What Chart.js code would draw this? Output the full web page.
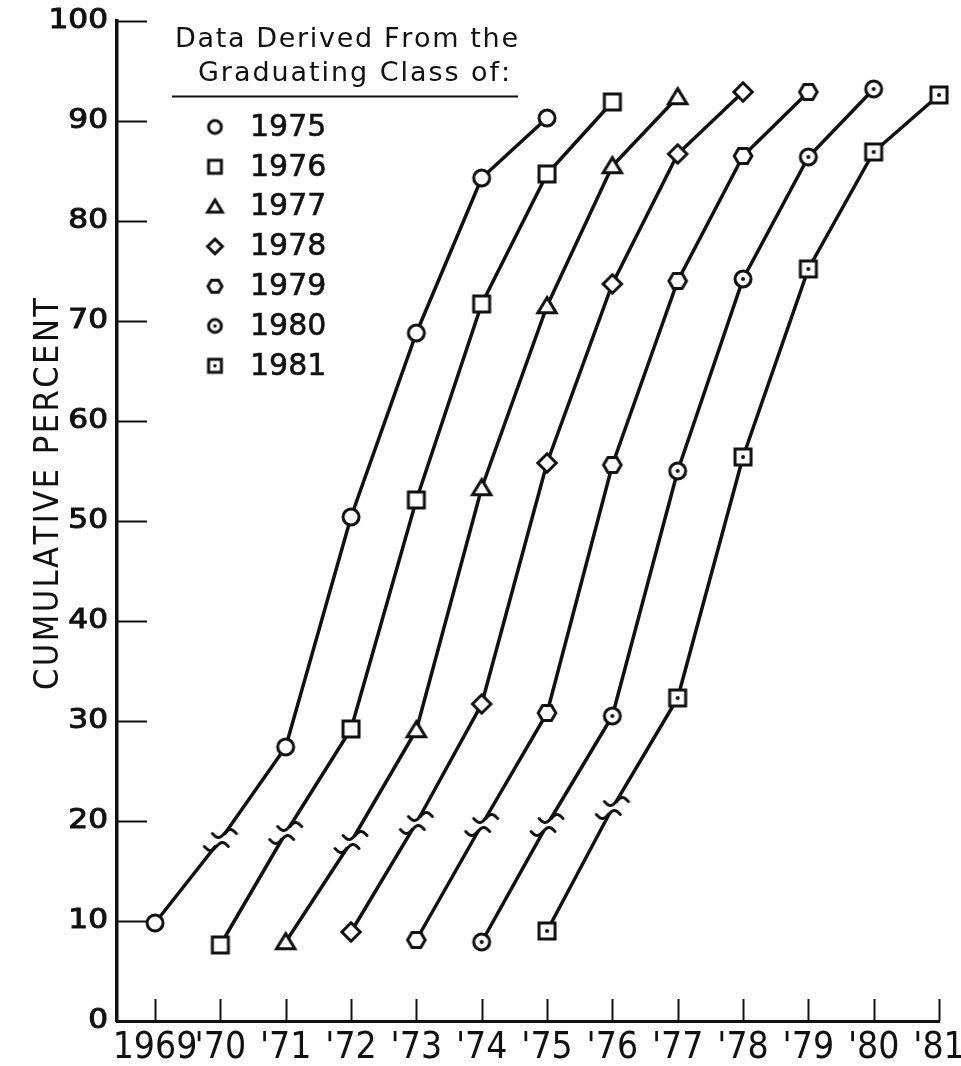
<!DOCTYPE html>
<html>
<head>
<meta charset="utf-8">
<title>Cumulative percent by graduating class</title>
<script src="https://cdn.jsdelivr.net/npm/chart.js@4.4.1/dist/chart.umd.min.js"></script>
<style>
  html, body { margin: 0; padding: 0; background: #fff; }
  #wrap { width: 961px; height: 1066px; }
</style>
</head>
<body>
<div id="wrap"><canvas id="cumChart" width="961" height="1066"></canvas></div>
<script>
// graduating classes and the first year plotted for each one
const classes = ['1975', '1976', '1977', '1978', '1979', '1980', '1981'];
const startYears = [1969, 1970, 1971, 1972, 1973, 1974, 1975];

// cumulative percent, one value per year starting at the start year
// (second value of each class sits on the scale break)
const class1975 = [9.8, 18.1, 27.4, 50.4, 68.8, 84.3, 90.3];
const class1976 = [7.6, 18.8, 29.2, 52.1, 71.7, 84.7, 91.9];
const class1977 = [7.9, 17.9, 29.1, 53.3, 71.5, 85.5, 92.4];
const class1978 = [8.9, 19.8, 31.7, 55.8, 73.7, 86.7, 92.9];
const class1979 = [8.1, 19.6, 30.8, 55.6, 74.0, 86.5, 92.9];
const class1980 = [7.9, 19.6, 30.5, 55.0, 74.2, 86.4, 93.2];
const class1981 = [9.0, 21.3, 32.3, 56.4, 75.2, 86.9, 92.6];

const xTickYears = [1969, 1970, 1971, 1972, 1973, 1974, 1975, 1976, 1977, 1978, 1979, 1980, 1981];
const xTickLabels = ['1969', "'70", "'71", "'72", "'73", "'74", "'75", "'76", "'77", "'78", "'79", "'80", "'81"];
const yTicks = [0, 10, 20, 30, 40, 50, 60, 70, 80, 90, 100];

const seriesValues = [class1975, class1976, class1977, class1978, class1979, class1980, class1981];
const markerKinds = ['circle', 'square', 'triangle', 'diamond', 'hexagon', 'dotcircle', 'dotsquare'];

const INK = '#111';

// marker glyphs as small canvases so Chart.js can use them as pointStyle
function makeMarker(kind, scale, stroke) {
    const size = Math.ceil(28 * scale);
    const c = document.createElement('canvas');
    c.width = size;
    c.height = size;
    const g = c.getContext('2d');
    const m = size / 2;
    const r = 8 * scale;
    g.lineWidth = stroke;
    g.strokeStyle = INK;
    g.fillStyle = '#fff';
    g.beginPath();
    switch (kind) {
        case 'circle':
        case 'dotcircle':
            g.arc(m, m, r, 0, Math.PI * 2);
            break;
        case 'square':
        case 'dotsquare':
            g.rect(m - r, m - r, 2 * r, 2 * r);
            break;
        case 'triangle':
            g.moveTo(m, m - r * 1.05);
            g.lineTo(m + r * 1.15, m + r * 0.85);
            g.lineTo(m - r * 1.15, m + r * 0.85);
            g.closePath();
            break;
        case 'diamond':
            g.moveTo(m, m - r * 1.15);
            g.lineTo(m + r * 1.15, m);
            g.lineTo(m, m + r * 1.15);
            g.lineTo(m - r * 1.15, m);
            g.closePath();
            break;
        case 'hexagon':
            for (let k = 0; k < 6; k++) {
                const a = k * Math.PI / 3;
                const px = m + r * 1.1 * Math.cos(a);
                const py = m + r * 1.1 * Math.sin(a);
                k === 0 ? g.moveTo(px, py) : g.lineTo(px, py);
            }
            g.closePath();
            break;
    }
    g.fill();
    g.stroke();
    if (kind === 'dotcircle' || kind === 'dotsquare') {
        g.beginPath();
        g.fillStyle = INK;
        g.arc(m, m, 2 * Math.max(scale, 0.85), 0, Math.PI * 2);
        g.fill();
    }
    return c;
}

// scale-break glyph: two tildes with the line cut between them
function makeBreak() {
    const c = document.createElement('canvas');
    c.width = 40;
    c.height = 36;
    const g = c.getContext('2d');
    const cx = 20, cy = 18;
    g.fillStyle = '#fff';
    g.beginPath();
    g.moveTo(cx - 6, cy - 5);
    g.lineTo(cx + 15, cy - 5);
    g.lineTo(cx + 6, cy + 5);
    g.lineTo(cx - 15, cy + 5);
    g.closePath();
    g.fill();
    g.strokeStyle = INK;
    g.lineWidth = 3;
    g.lineCap = 'round';
    [[4, -6.5], [-4, 6.5]].forEach(([ox, oy]) => {
        g.beginPath();
        for (let t = -12; t <= 12; t += 0.5) {
            const px = cx + ox + t;
            const py = cy + oy - 4 * Math.sin(Math.PI * t / 12);
            t === -12 ? g.moveTo(px, py) : g.lineTo(px, py);
        }
        g.stroke();
    });
    return c;
}

const plotMarkers = markerKinds.map(k => makeMarker(k, 1, 3));
const legendMarkers = markerKinds.map(k => makeMarker(k, 0.8, 3));
const breakMark = makeBreak();

// draw text char by char so it spans a given width
function spacedText(ctx, text, left, y, width) {
    const chars = text.split('');
    const natural = chars.reduce((s, ch) => s + ctx.measureText(ch).width, 0);
    const gap = chars.length > 1 ? (width - natural) / (chars.length - 1) : 0;
    let x = left;
    chars.forEach(ch => {
        ctx.fillText(ch, x, y);
        x += ctx.measureText(ch).width + gap;
    });
}

const axisDecor = {
    id: 'axisDecor',
    beforeDatasetsDraw(chart) {
        const { ctx, chartArea: area, scales: { x, y } } = chart;
        ctx.save();
        ctx.strokeStyle = INK;
        ctx.fillStyle = INK;

        // inward tick marks
        ctx.lineWidth = 2;
        yTicks.forEach(v => {
            const py = Math.round(y.getPixelForValue(v)) + 0.5;
            ctx.beginPath();
            ctx.moveTo(area.left, py);
            ctx.lineTo(area.left + 30, py);
            ctx.stroke();
        });
        xTickYears.forEach(v => {
            const px = Math.round(x.getPixelForValue(v)) + 0.5;
            ctx.beginPath();
            ctx.moveTo(px, area.bottom);
            ctx.lineTo(px, area.bottom - 22);
            ctx.stroke();
        });

        // y tick labels (wide, heavy numerals)
        ctx.font = '26px "DejaVu Sans"';
        ctx.textBaseline = 'middle';
        ctx.textAlign = 'right';
        ctx.lineWidth = 1;
        yTicks.forEach(v => {
            const py = y.getPixelForValue(v);
            ctx.save();
            ctx.translate(area.left - 9, py);
            ctx.scale(1.2, 1);
            ctx.fillText(String(v), 0, 0);
            ctx.strokeText(String(v), 0, 0);
            ctx.restore();
        });

        // x tick labels
        ctx.font = '37px "Liberation Sans Narrow", "DejaVu Sans Condensed", sans-serif';
        ctx.textAlign = 'center';
        xTickYears.forEach((v, i) => {
            ctx.fillText(xTickLabels[i], x.getPixelForValue(v), area.bottom + 27);
        });

        // y axis title
        ctx.save();
        ctx.translate(49, 494);
        ctx.rotate(-Math.PI / 2);
        ctx.font = '34px "Liberation Sans Narrow", "DejaVu Sans Condensed", sans-serif';
        ctx.textAlign = 'left';
        spacedText(ctx, 'CUMULATIVE PERCENT', -196, 0, 392);
        ctx.restore();

        // legend block
        ctx.font = '27px "DejaVu Sans"';
        ctx.textAlign = 'left';
        ctx.textBaseline = 'alphabetic';
        spacedText(ctx, 'Data Derived From the', 175, 47, 343);
        spacedText(ctx, 'Graduating Class of:', 198, 81, 312);
        ctx.lineWidth = 2;
        ctx.beginPath();
        ctx.moveTo(172, 96.5);
        ctx.lineTo(518, 96.5);
        ctx.stroke();

        ctx.font = '30px "DejaVu Sans"';
        ctx.textBaseline = 'middle';
        ctx.lineWidth = 0.6;
        classes.forEach((label, i) => {
            const rowY = 127 + i * 39.8;
            const mk = legendMarkers[i];
            ctx.drawImage(mk, 215 - mk.width / 2, rowY - mk.height / 2);
            ctx.fillText(label, 250, rowY + 1);
            ctx.strokeText(label, 250, rowY + 1);
        });
        ctx.restore();
    }
};

const datasets = classes.map((label, i) => ({
    label: label,
    data: seriesValues[i].map((v, k) => ({ x: startYears[i] + k, y: v })),
    borderColor: INK,
    borderWidth: 3.5,
    tension: 0,
    fill: false,
    pointStyle: seriesValues[i].map((v, k) => k === 1 ? breakMark : plotMarkers[i]),
    pointRadius: 10,
    clip: false
}));

new Chart(document.getElementById('cumChart').getContext('2d'), {
    type: 'line',
    data: { datasets: datasets },
    options: {
        responsive: false,
        animation: false,
        devicePixelRatio: 1,
        layout: { padding: { top: 21, right: 22, left: 0, bottom: 0 } },
        plugins: {
            legend: { display: false },
            tooltip: { enabled: false }
        },
        scales: {
            x: {
                type: 'linear',
                min: 1968.418,
                max: 1981,
                grid: { display: false },
                border: { display: true, color: INK, width: 3 },
                ticks: { display: false },
                afterFit: function(scale) { scale.height = 45; }
            },
            y: {
                type: 'linear',
                min: 0,
                max: 100,
                grid: { display: false },
                border: { display: true, color: INK, width: 3.5 },
                ticks: { display: false },
                afterFit: function(scale) { scale.width = 117; }
            }
        }
    },
    plugins: [axisDecor]
});
</script>
</body>
</html>
